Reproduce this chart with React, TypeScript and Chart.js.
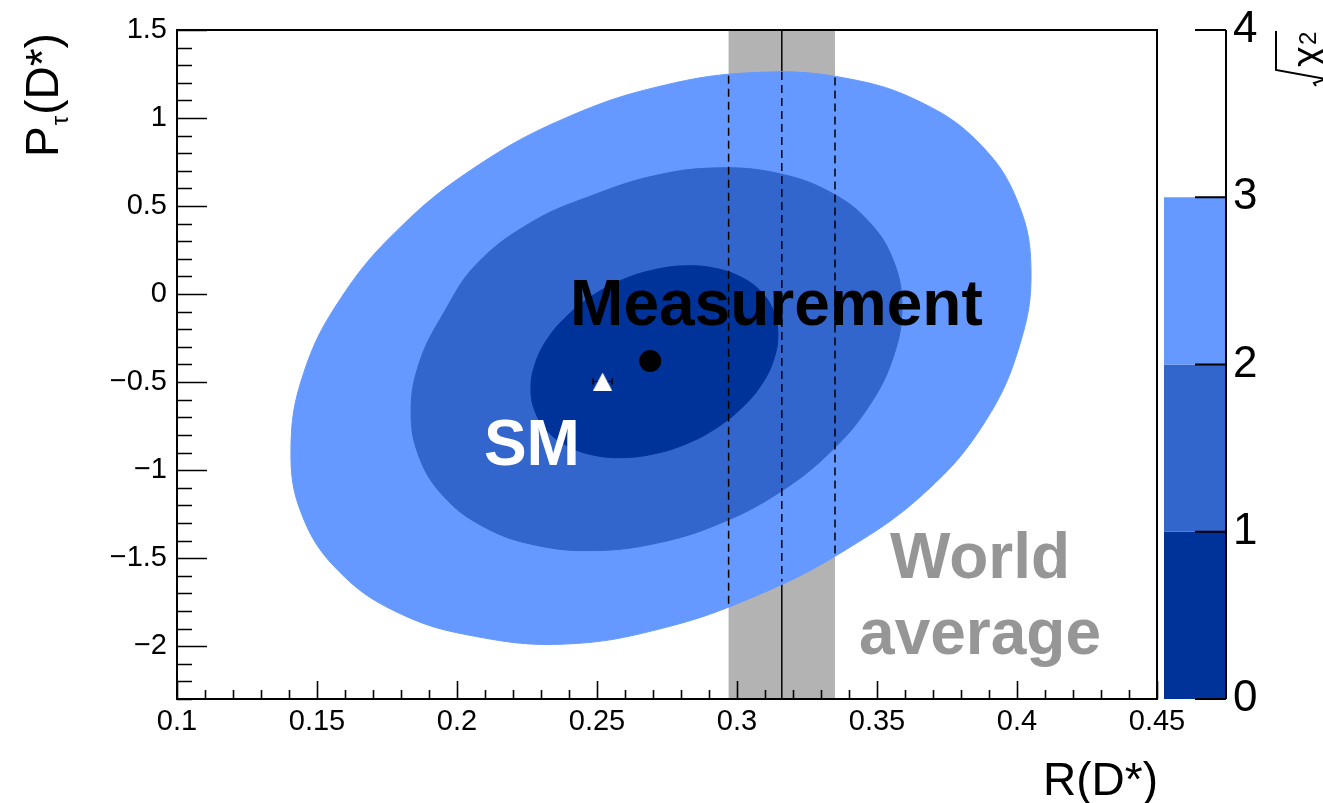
import React, { useEffect, useRef } from 'react';
import { Chart, registerables } from 'chart.js';

Chart.register(...registerables);

const FAMILY = "'Liberation Sans', Arial, Helvetica, sans-serif";

// ---- axes ----
const rMin = 0.1;
const rMax = 0.45;
const pMin = -2.3;
const pMax = 1.5;
const zMin = 0;
const zMax = 4;
const xTickValues = [0.1, 0.15, 0.2, 0.25, 0.3, 0.35, 0.4, 0.45];
const xTickLabels = ['0.1', '0.15', '0.2', '0.25', '0.3', '0.35', '0.4', '0.45'];
const yTickValues = [-2, -1.5, -1, -0.5, 0, 0.5, 1, 1.5];
const yTickLabels = ['\u22122', '\u22121.5', '\u22121', '\u22120.5', '0', '0.5', '1', '1.5'];
const zTickValues = [0, 1, 2, 3, 4];
const zTickLabels = ['0', '1', '2', '3', '4'];

// ---- sqrt(chi2) palette levels ----
const chiLevels = [0, 1, 2, 3];
const levelColors = ['#003399', '#3366CC', '#6699FF'];

// ---- contour boundaries (R(D*), P_tau(D*)) ----
const contour1R = [0.3146, 0.3131, 0.3088, 0.3017, 0.2926, 0.2820, 0.2705, 0.2591, 0.2485, 0.2394, 0.2323, 0.2279, 0.2264, 0.2279, 0.2323, 0.2394, 0.2485, 0.2591, 0.2705, 0.2820, 0.2926, 0.3017, 0.3088, 0.3131];
const contour1P = [-0.232, -0.101, 0.010, 0.094, 0.145, 0.161, 0.138, 0.081, -0.008, -0.123, -0.255, -0.397, -0.537, -0.667, -0.778, -0.862, -0.914, -0.929, -0.907, -0.850, -0.761, -0.646, -0.513, -0.372];

const contour2R = [0.3589, 0.3559, 0.3472, 0.3333, 0.3151, 0.2939, 0.2713, 0.2486, 0.2268, 0.2071, 0.1953, 0.1866, 0.1836, 0.1866, 0.1953, 0.2093, 0.2274, 0.2486, 0.2713, 0.2939, 0.3151, 0.3333, 0.3472, 0.3559];
const contour2P = [-0.072, 0.188, 0.410, 0.579, 0.684, 0.717, 0.675, 0.562, 0.410, 0.172, -0.106, -0.387, -0.668, -0.930, -1.150, -1.320, -1.424, -1.457, -1.415, -1.303, -1.127, -0.898, -0.635, -0.353];

const contour3R = [0.4050, 0.4004, 0.3873, 0.3663, 0.3389, 0.3071, 0.2729, 0.2386, 0.2068, 0.1794, 0.1584, 0.1452, 0.1407, 0.1446, 0.1579, 0.1794, 0.2068, 0.2386, 0.2729, 0.3071, 0.3389, 0.3675, 0.3886, 0.4011];
const contour3P = [0.138, 0.518, 0.844, 1.085, 1.226, 1.259, 1.182, 0.999, 0.724, 0.374, -0.026, -0.450, -0.878, -1.253, -1.576, -1.813, -1.945, -1.988, -1.900, -1.712, -1.452, -1.122, -0.725, -0.282];

// ---- world average R(D*) ----
const worldAvgR = 0.316;
const worldAvgLo = 0.297;
const worldAvgHi = 0.335;
const dashR = [worldAvgLo, worldAvgR, worldAvgHi];
const dashTopP = [1.240, 1.262, 1.230];
const dashBottomP = [-1.770, -1.633, -1.475];

// ---- points ----
const measurementR = 0.269;
const measurementP = -0.38;
const smR = 0.252;
const smP = -0.497;
const smErrR = 0.0034;

// ---- text annotations (data coordinates) ----
const measLabelR = 0.2404;
const measLabelP = -0.174;
const smLabelR = 0.2096;
const smLabelP = -0.969;
const waLabelR = 0.3868;
const waLabelP1 = -1.610;
const waLabelP2 = -2.047;

function pts(rs: number[], ps: number[]) {
  return rs.map((r, i) => ({ x: r, y: ps[i] }));
}

function makeTriangle() {
  const c = document.createElement('canvas');
  c.width = 19;
  c.height = 18;
  const g = c.getContext('2d') as CanvasRenderingContext2D;
  g.fillStyle = '#ffffff';
  g.beginPath();
  g.moveTo(9.5, 0);
  g.lineTo(19, 18);
  g.lineTo(0, 18);
  g.closePath();
  g.fill();
  return c;
}

const noPad = (s: any) => {
  s.paddingTop = 0;
  s.paddingBottom = 0;
  s.paddingLeft = 0;
  s.paddingRight = 0;
};

const decorPlugin: any = {
  id: 'decor',
  afterDatasetUpdate(chart: any, args: any) {
    const ds = chart.data.datasets[args.index];
    const line = args.meta.dataset;
    if (ds && ds.closedContour && line) {
      line._loop = true;
      line._fullLoop = true;
      line._segments = undefined;
      line._pointsUpdated = false;
    }
  },
  afterDatasetsDraw(chart: any) {
    const { ctx, scales } = chart;
    const x = scales.x;
    const y = scales.y;
    ctx.save();
    ctx.textBaseline = 'alphabetic';
    ctx.font = `bold 64px ${FAMILY}`;
    ctx.textAlign = 'left';
    ctx.fillStyle = '#000000';
    ctx.fillText('Measurement', x.getPixelForValue(measLabelR), y.getPixelForValue(measLabelP));
    ctx.fillStyle = '#ffffff';
    ctx.fillText('SM', x.getPixelForValue(smLabelR), y.getPixelForValue(smLabelP));
    ctx.fillStyle = '#969696';
    ctx.textAlign = 'center';
    ctx.fillText('World', x.getPixelForValue(waLabelR), y.getPixelForValue(waLabelP1));
    ctx.fillText('average', x.getPixelForValue(waLabelR), y.getPixelForValue(waLabelP2));
    ctx.restore();
  },
  afterDraw(chart: any) {
    const { ctx, chartArea, scales } = chart;
    const x = scales.x;
    const y = scales.y;
    const z = scales.yc;
    const { left, right, top, bottom } = chartArea;
    ctx.save();
    // ticks
    ctx.strokeStyle = '#000';
    ctx.lineWidth = 1.6;
    ctx.beginPath();
    const nx = Math.round((rMax - rMin) / 0.01);
    for (let i = 0; i <= nx; i++) {
      const v = rMin + i * 0.01;
      const px = Math.round(x.getPixelForValue(v)) + 0.5;
      const len = i % 5 === 0 ? 18 : 9;
      ctx.moveTo(px, bottom);
      ctx.lineTo(px, bottom - len);
    }
    const ny = Math.round((pMax - pMin) / 0.1);
    for (let i = 0; i <= ny; i++) {
      const v = pMin + i * 0.1;
      const py = Math.round(y.getPixelForValue(v)) + 0.5;
      const isMajor = Math.abs(v * 2 - Math.round(v * 2)) < 1e-6;
      ctx.moveTo(left, py);
      ctx.lineTo(left + (isMajor ? 30 : 15), py);
    }
    ctx.stroke();
    // frame
    ctx.lineWidth = 2;
    ctx.strokeRect(left, top, right - left, bottom - top);

    // colour bar
    const cbL = right + 7;
    const cbR = right + 69;
    for (let i = 0; i < levelColors.length; i++) {
      const y0 = z.getPixelForValue(chiLevels[i]);
      const y1 = z.getPixelForValue(chiLevels[i + 1]);
      ctx.fillStyle = levelColors[i];
      ctx.fillRect(cbL, y1, cbR - cbL, y0 - y1);
    }
    ctx.strokeStyle = '#000';
    ctx.lineWidth = 2;
    ctx.beginPath();
    ctx.moveTo(cbR, z.getPixelForValue(zMin));
    ctx.lineTo(cbR, z.getPixelForValue(zMax));
    for (const v of zTickValues) {
      const py = z.getPixelForValue(v);
      ctx.moveTo(cbR, py);
      ctx.lineTo(cbR - 31, py);
    }
    ctx.stroke();

    // x axis title
    ctx.fillStyle = '#000';
    ctx.font = `46px ${FAMILY}`;
    ctx.textAlign = 'right';
    ctx.textBaseline = 'alphabetic';
    ctx.fillText('R(D*)', right + 1, 795);

    // y axis title
    ctx.save();
    ctx.translate(58, 157);
    ctx.rotate(-Math.PI / 2);
    ctx.textAlign = 'left';
    ctx.font = `46px ${FAMILY}`;
    ctx.fillText('P', 0, 0);
    const wP = ctx.measureText('P').width;
    ctx.font = `24px ${FAMILY}`;
    ctx.fillText('\u03C4', wP + 1, 10);
    const wT = ctx.measureText('\u03C4').width;
    ctx.font = `46px ${FAMILY}`;
    ctx.fillText('(D*)', wP + wT + 2, 0);
    ctx.restore();

    // colour bar title sqrt(chi^2)
    ctx.save();
    ctx.translate(1276, 83);
    ctx.rotate(-Math.PI / 2);
    ctx.strokeStyle = '#000';
    ctx.lineWidth = 2;
    ctx.beginPath();
    ctx.moveTo(52, 0);
    ctx.lineTo(13, 0);
    ctx.lineTo(4, 50);
    ctx.lineTo(0, 38);
    ctx.lineTo(-3, 40);
    ctx.stroke();
    ctx.textAlign = 'left';
    ctx.font = `40px ${FAMILY}`;
    ctx.fillText('\u03C7', 16, 44);
    ctx.font = `24px ${FAMILY}`;
    ctx.fillText('2', 38, 40);
    ctx.restore();

    ctx.restore();
  },
};

function contourDataset(rs: number[], ps: number[], color: string, order: number) {
  return {
    data: pts(rs, ps),
    showLine: true,
    fill: 'shape',
    backgroundColor: color,
    borderColor: color,
    borderWidth: 1,
    pointRadius: 0,
    pointHoverRadius: 0,
    tension: 0.4,
    order,
    closedContour: true,
  };
}

export default function App() {
  const ref = useRef<HTMLCanvasElement>(null);
  useEffect(() => {
    const canvas = ref.current;
    if (!canvas) return;
    const tri = makeTriangle();
    const datasets: any[] = [
      {
        data: [
          { x: worldAvgLo, y: pMin },
          { x: worldAvgHi, y: pMin },
          { x: worldAvgHi, y: pMax },
          { x: worldAvgLo, y: pMax },
        ],
        showLine: true,
        fill: 'shape',
        backgroundColor: '#b3b3b3',
        borderColor: 'rgba(0,0,0,0)',
        borderWidth: 0,
        pointRadius: 0,
        tension: 0,
        order: 20,
      },
      {
        data: [
          { x: worldAvgR, y: pMin },
          { x: worldAvgR, y: pMax },
        ],
        showLine: true,
        fill: false,
        borderColor: '#000',
        borderWidth: 1.5,
        pointRadius: 0,
        order: 19,
      },
      contourDataset(contour3R, contour3P, levelColors[2], 18),
      contourDataset(contour2R, contour2P, levelColors[1], 17),
      contourDataset(contour1R, contour1P, levelColors[0], 16),
      ...dashR.map((r, i) => ({
        data: [
          { x: r, y: dashTopP[i] },
          { x: r, y: dashBottomP[i] },
        ],
        showLine: true,
        fill: false,
        borderColor: '#000',
        borderWidth: 1.5,
        borderDash: [8, 5],
        pointRadius: 0,
        order: 15,
      })),
      {
        data: [
          { x: smR - smErrR, y: smP },
          { x: smR + smErrR, y: smP },
        ],
        showLine: true,
        fill: false,
        borderColor: '#000',
        borderWidth: 1,
        pointStyle: 'line',
        rotation: 90,
        pointRadius: 3,
        pointBorderColor: '#000',
        pointBorderWidth: 1.5,
        order: 3,
      },
      {
        data: [{ x: smR, y: smP }],
        pointStyle: tri,
        pointRadius: 10,
        order: 2,
      },
      {
        data: [{ x: measurementR, y: measurementP }],
        pointStyle: 'circle',
        pointRadius: 11,
        pointBackgroundColor: '#000',
        pointBorderWidth: 0,
        order: 1,
      },
    ];

    const chart = new Chart(canvas, {
      type: 'scatter',
      data: { datasets },
      plugins: [decorPlugin],
      options: {
        responsive: false,
        animation: false,
        devicePixelRatio: 1,
        events: [],
        layout: { padding: { top: 30, left: 0, right: 0, bottom: 0 } },
        plugins: { legend: { display: false }, tooltip: { enabled: false } },
        scales: {
          x: {
            type: 'linear',
            min: rMin,
            max: rMax,
            afterBuildTicks: (s: any) => {
              s.ticks = xTickValues.map((v) => ({ value: v }));
            },
            afterFit: (s: any) => {
              s.height = 104;
              noPad(s);
            },
            ticks: {
              autoSkip: false,
              maxRotation: 0,
              minRotation: 0,
              padding: 6,
              color: '#000',
              font: { family: FAMILY, size: 29 },
              callback: (_v: any, i: number) => xTickLabels[i],
            },
            grid: { display: false, drawTicks: false },
            border: { display: false },
          },
          y: {
            type: 'linear',
            position: 'left',
            min: pMin,
            max: pMax,
            afterBuildTicks: (s: any) => {
              s.ticks = yTickValues.map((v) => ({ value: v }));
            },
            afterFit: (s: any) => {
              s.width = 177;
              noPad(s);
            },
            ticks: {
              autoSkip: false,
              padding: 10,
              color: '#000',
              font: { family: FAMILY, size: 29 },
              callback: (_v: any, i: number) => yTickLabels[i],
            },
            grid: { display: false, drawTicks: false },
            border: { display: false },
          },
          yc: {
            type: 'linear',
            position: 'right',
            min: zMin,
            max: zMax,
            afterBuildTicks: (s: any) => {
              s.ticks = zTickValues.map((v) => ({ value: v }));
            },
            afterFit: (s: any) => {
              s.width = 166;
              noPad(s);
            },
            ticks: {
              autoSkip: false,
              padding: 76,
              color: '#000',
              font: { family: FAMILY, size: 44 },
              callback: (_v: any, i: number) => zTickLabels[i],
            },
            grid: { display: false, drawTicks: false },
            border: { display: false },
          },
        },
      } as any,
    });
    return () => chart.destroy();
  }, []);

  return (
    <div style={{ position: 'absolute', left: 0, top: 0, width: 1323, height: 803, background: '#fff', overflow: 'hidden' }}>
      <canvas ref={ref} width={1323} height={803} style={{ display: 'block', width: 1323, height: 803 }} />
    </div>
  );
}
